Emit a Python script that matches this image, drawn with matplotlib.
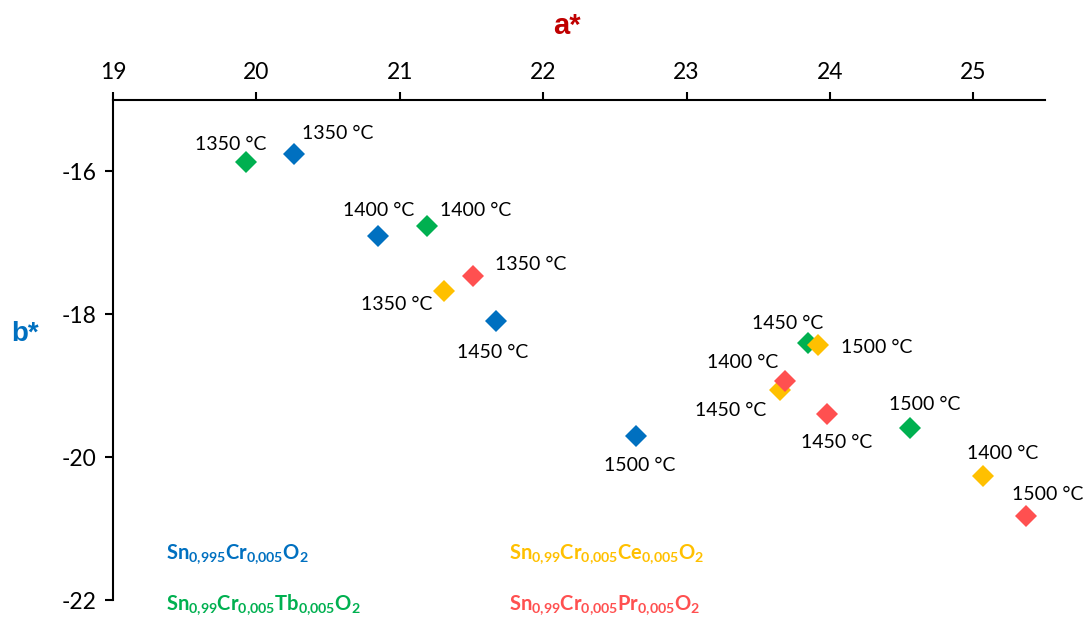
import matplotlib
matplotlib.use("Agg")
import matplotlib.pyplot as plt

plt.rcParams['font.family'] = ['Lato', 'DejaVu Sans']
plt.rcParams['axes.unicode_minus'] = False
plt.rcParams['mathtext.fontset'] = 'custom'
plt.rcParams['mathtext.rm'] = 'Lato:bold'
plt.rcParams['mathtext.it'] = 'Lato:bold'
plt.rcParams['mathtext.bf'] = 'Lato:bold'

# a* / b* values per sample series
blue_a = [20.26, 20.85, 21.67, 22.65]
blue_b = [-15.75, -16.90, -18.10, -19.70]
blue_t = [1350, 1400, 1450, 1500]

green_a = [19.93, 21.19, 23.85, 24.56]
green_b = [-15.87, -16.77, -18.40, -19.59]
green_t = [1350, 1400, 1450, 1500]

yellow_a = [21.31, 23.65, 23.92, 25.07]
yellow_b = [-17.68, -19.06, -18.43, -20.26]
yellow_t = [1350, 1450, 1500, 1400]

red_a = [21.51, 23.69, 23.98, 25.37]
red_b = [-17.47, -18.93, -19.39, -20.82]
red_t = [1350, 1400, 1450, 1500]

names = [r'Sn$_{0{,}995}$Cr$_{0{,}005}$O$_{2}$',
         r'Sn$_{0{,}99}$Cr$_{0{,}005}$Tb$_{0{,}005}$O$_{2}$',
         r'Sn$_{0{,}99}$Cr$_{0{,}005}$Ce$_{0{,}005}$O$_{2}$',
         r'Sn$_{0{,}99}$Cr$_{0{,}005}$Pr$_{0{,}005}$O$_{2}$']

colors = ['#0070C0', '#00B050', '#FFC000', '#FF5050']

# label offsets in pixels (dx, dy with y down)
offsets = [
    [(44, -20), (0, -25), (-3, 31), (3, 30)],
    [(-16, -18), (49, -16), (-21, -19), (14, -23)],
    [(-48, 13), (-49, 20), (58, 2), (19, -22)],
    [(58, -12), (-43, -18), (10, 29), (21, -21)],
]

series = [(blue_a, blue_b, blue_t), (green_a, green_b, green_t),
          (yellow_a, yellow_b, yellow_t), (red_a, red_b, red_t)]

fig = plt.figure(figsize=(10.89, 6.19), dpi=100)
ax = fig.add_axes([113 / 1089, 1 - 600 / 619, (1045 - 113) / 1089, 500 / 619])

for (a, b, t), c, offs in zip(series, colors, offsets):
    ax.plot(a, b, linestyle='none', marker='D', markersize=11, color=c,
            markeredgewidth=0)
    for xi, yi, ti, (dx, dy) in zip(a, b, t, offs):
        ax.annotate(f'{ti} °C', (xi, yi), xytext=(dx * 0.72, -dy * 0.72),
                    textcoords='offset points', ha='center', va='center',
                    fontsize=14, color='black')

ax.set_xlim(19, 25.5)
ax.set_ylim(-22, -15)
ax.set_xticks([19, 20, 21, 22, 23, 24, 25])
ax.set_yticks([-22, -20, -18, -16])
ax.xaxis.tick_top()
ax.spines['bottom'].set_visible(False)
ax.spines['right'].set_visible(False)
ax.spines['top'].set_linewidth(1.5)
ax.spines['left'].set_linewidth(1.5)
ax.tick_params(axis='both', direction='out', length=6, width=1.5,
               labelsize=16.5, pad=6)

fig.text(567 / 1089, 1 - 26 / 619, 'a*', color='#C00000', fontsize=21,
         fontweight='bold', family='Liberation Sans', ha='center', va='center')
fig.text(25 / 1089, 1 - 334 / 619, 'b*', color='#0070C0', fontsize=20,
         fontweight='bold', family='Liberation Sans', ha='center', va='center')

legend_pos = [(166, 559), (166, 610), (509, 559), (509, 610)]
for name, c, (px, py) in zip(names, colors, legend_pos):
    fig.text(px / 1089, 1 - py / 619, name, color=c, fontsize=14.5,
             fontweight='bold', ha='left', va='baseline')

fig.savefig('out.png', dpi=100)
